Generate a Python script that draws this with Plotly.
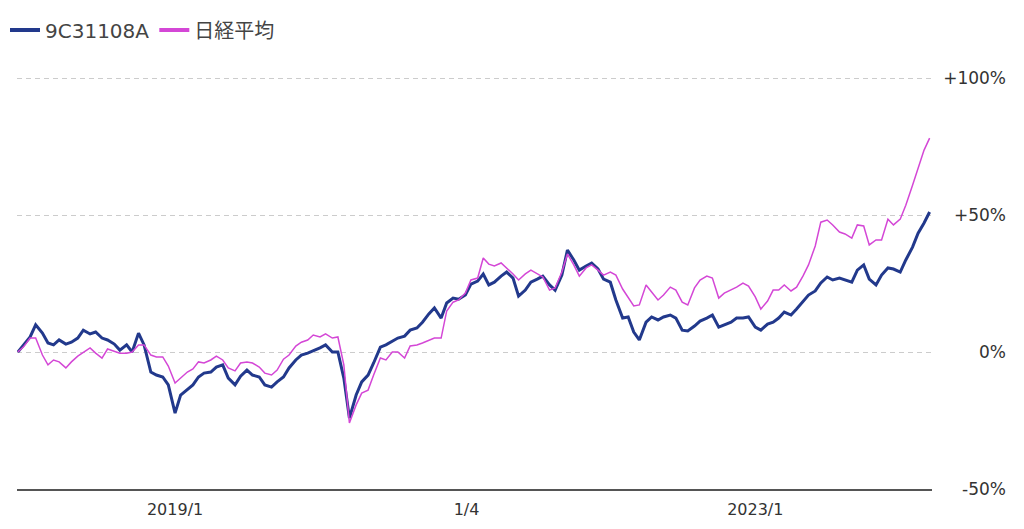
import plotly.graph_objects as go

# ---------------- data ----------------
dates = [
    "2017-12-01", "2017-12-15",
    "2018-01-01", "2018-01-15", "2018-02-01", "2018-02-15", "2018-03-01", "2018-03-15",
    "2018-04-01", "2018-04-15", "2018-05-01", "2018-05-15", "2018-06-01", "2018-06-15",
    "2018-07-01", "2018-07-15", "2018-08-01", "2018-08-15", "2018-09-01", "2018-09-15",
    "2018-10-01", "2018-10-15", "2018-11-01", "2018-11-15", "2018-12-01", "2018-12-15",
    "2019-01-01", "2019-01-15", "2019-02-01", "2019-02-15", "2019-03-01", "2019-03-15",
    "2019-04-01", "2019-04-15", "2019-05-01", "2019-05-15", "2019-06-01", "2019-06-15",
    "2019-07-01", "2019-07-15", "2019-08-01", "2019-08-15", "2019-09-01", "2019-09-15",
    "2019-10-01", "2019-10-15", "2019-11-01", "2019-11-15", "2019-12-01", "2019-12-15",
    "2020-01-01", "2020-01-15", "2020-02-01", "2020-02-15", "2020-03-01", "2020-03-15",
    "2020-04-01", "2020-04-15", "2020-05-01", "2020-05-15", "2020-06-01", "2020-06-15",
    "2020-07-01", "2020-07-15", "2020-08-01", "2020-08-15", "2020-09-01", "2020-09-15",
    "2020-10-01", "2020-10-15", "2020-11-01", "2020-11-15", "2020-12-01", "2020-12-15",
    "2021-01-01", "2021-01-15", "2021-02-01", "2021-02-15", "2021-03-01", "2021-03-15",
    "2021-04-01", "2021-04-15", "2021-05-01", "2021-05-15", "2021-06-01", "2021-06-15",
    "2021-07-01", "2021-07-15", "2021-08-01", "2021-08-15", "2021-09-01", "2021-09-15",
    "2021-10-01", "2021-10-15", "2021-11-01", "2021-11-15", "2021-12-01", "2021-12-15",
    "2022-01-01", "2022-01-15", "2022-02-01", "2022-02-15", "2022-03-01", "2022-03-15",
    "2022-04-01", "2022-04-15", "2022-05-01", "2022-05-15", "2022-06-01", "2022-06-15",
    "2022-07-01", "2022-07-15", "2022-08-01", "2022-08-15", "2022-09-01", "2022-09-15",
    "2022-10-01", "2022-10-15", "2022-11-01", "2022-11-15", "2022-12-01", "2022-12-15",
    "2023-01-01", "2023-01-15", "2023-02-01", "2023-02-15", "2023-03-01", "2023-03-15",
    "2023-04-01", "2023-04-15", "2023-05-01", "2023-05-15", "2023-06-01", "2023-06-15",
    "2023-07-01", "2023-07-15", "2023-08-01", "2023-08-15", "2023-09-01", "2023-09-15",
    "2023-10-01", "2023-10-15", "2023-11-01", "2023-11-15", "2023-12-01", "2023-12-15",
    "2024-01-01", "2024-01-15", "2024-02-01", "2024-02-15", "2024-03-01", "2024-03-15",
]

fund_pct = [
    0.0, 2.6, 5.5, 9.9, 6.9, 3.3, 2.6, 4.4, 2.9, 3.6,
    5.1, 8.0, 6.6, 7.3, 5.1, 4.4, 2.9, 0.7, 2.6, 0.0,
    6.9, 2.6, -7.3, -8.4, -9.1, -12.0, -22.3, -15.7, -13.5, -12.0,
    -9.1, -7.7, -7.3, -5.5, -4.7, -9.5, -12.0, -8.8, -6.6, -8.4,
    -9.1, -12.0, -12.8, -10.9, -9.1, -5.8, -2.9, -1.1, -0.4, 0.4,
    1.5, 2.6, 0.0, 0.0, -9.5, -24.1, -15.7, -10.9, -8.4, -4.0,
    1.8, 2.6, 4.0, 5.1, 5.8, 8.0, 8.8, 10.9, 13.9, 16.1,
    12.4, 17.9, 19.7, 19.3, 20.8, 24.8, 25.9, 28.5, 24.5, 25.5,
    27.7, 29.2, 27.0, 20.4, 22.6, 25.5, 26.6, 27.7, 24.5, 22.6,
    28.1, 37.2, 33.6, 29.9, 31.4, 32.5, 30.3, 26.6, 25.5, 19.0,
    12.4, 12.8, 7.3, 4.4, 10.9, 12.8, 11.7, 12.8, 13.5, 12.4,
    8.0, 7.7, 9.5, 11.3, 12.4, 13.5, 9.1, 9.9, 10.9, 12.4,
    12.4, 12.8, 9.1, 8.0, 10.2, 10.9, 12.4, 14.6, 13.5, 15.7,
    18.6, 20.8, 22.3, 25.2, 27.4, 26.3, 27.0, 26.3, 25.5, 29.9,
    31.8, 26.6, 24.5, 28.1, 30.7, 30.3, 29.2, 33.6, 38.3, 43.4,
    47.1, 51.1,
]

nikkei_pct = [
    0.0, 1.8, 5.1, 5.1, -1.1, -4.7, -2.9, -3.6, -5.8, -3.6,
    -1.5, 0.0, 1.5, -0.4, -2.2, 1.1, 0.4, -0.4, -0.4, 0.0,
    2.6, 2.6, -1.1, -1.8, -1.8, -5.1, -11.3, -9.5, -7.3, -6.2,
    -3.6, -4.0, -2.9, -1.5, -2.9, -5.8, -6.9, -4.0, -3.6, -4.0,
    -5.5, -7.7, -8.4, -6.6, -2.6, -1.1, 2.2, 3.6, 4.4, 6.2,
    5.5, 6.6, 5.1, 5.5, -4.7, -25.9, -19.3, -15.0, -13.9, -8.4,
    -2.2, -2.9, 0.0, 0.0, -2.2, 2.2, 2.6, 3.3, 4.4, 5.1,
    5.1, 15.0, 18.2, 19.0, 21.5, 26.3, 27.0, 34.3, 32.1, 31.4,
    32.5, 30.7, 28.5, 26.3, 28.5, 29.9, 28.5, 27.4, 22.6, 23.4,
    29.2, 35.8, 31.8, 27.7, 30.7, 31.8, 29.9, 28.1, 29.2, 28.1,
    23.0, 19.7, 16.8, 17.2, 24.5, 21.9, 19.0, 20.8, 23.7, 22.6,
    18.2, 17.2, 23.4, 26.3, 27.7, 27.0, 19.7, 21.5, 22.6, 23.7,
    25.2, 24.1, 20.1, 15.7, 18.6, 22.6, 22.6, 24.5, 22.3, 23.7,
    27.7, 31.8, 38.7, 47.4, 48.2, 46.4, 43.8, 43.1, 41.6, 46.4,
    46.0, 39.1, 40.9, 40.9, 48.5, 46.4, 48.5, 53.6, 60.9, 67.2,
    73.7, 78.1,
]

series_names = ["9C31108A", "日経平均"]
y_tick_values = [-50, 0, 50, 100]
y_tick_labels = ["-50%", "0%", "+50%", "+100%"]
x_tick_values = ["2019-01-01", "2021-01-04", "2023-01-01"]
x_tick_labels = ["2019/1", "1/4", "2023/1"]
x_range = ["2017-11-29", "2024-03-21"]
y_range = [-50, 100.4]

# ---------------- styling ----------------
BLUE = "#22398c"
PINK = "#d447d6"
FONT = "DejaVu Sans, Noto Sans CJK JP, sans-serif"

fig = go.Figure()

# legend-only entries (thick symbols like the reference)
fig.add_trace(go.Scatter(x=[None], y=[None], mode="lines", name=series_names[0],
                         line=dict(color=BLUE, width=4)))
fig.add_trace(go.Scatter(x=[None], y=[None], mode="lines", name=series_names[1],
                         line=dict(color=PINK, width=4)))

fig.add_trace(go.Scatter(x=dates, y=fund_pct, mode="lines", name=series_names[0],
                         line=dict(color=BLUE, width=3), showlegend=False))
fig.add_trace(go.Scatter(x=dates, y=nikkei_pct, mode="lines", name=series_names[1],
                         line=dict(color=PINK, width=1.5), showlegend=False))

L, R = 17, 14
plot_w = 1024 - L - R

fig.update_layout(
    width=1024, height=529,
    margin=dict(l=L, r=R, t=77, b=40, autoexpand=False),
    paper_bgcolor="white", plot_bgcolor="white",
    font=dict(family=FONT, color="#333333", size=16),
    showlegend=True,
    legend=dict(
        orientation="h", xref="container", yref="container",
        x=5 / 1024, y=1 - 30 / 529, xanchor="left", yanchor="middle",
        font=dict(size=20, color="#444444", family=FONT),
        bgcolor="rgba(0,0,0,0)", borderwidth=0,
    ),
    xaxis=dict(
        type="date",
        domain=[0, (932 - L) / plot_w],
        range=x_range, tickmode="array",
        tickvals=x_tick_values, ticktext=x_tick_labels,
        showgrid=False, zeroline=False, ticks="",
        ticklabelstandoff=5, automargin=False,
        showline=True, linecolor="#555555", linewidth=2,
        tickfont=dict(size=16, color="#333333", family=FONT),
        fixedrange=True,
    ),
    yaxis=dict(
        type="linear",
        range=y_range, tickmode="array",
        tickvals=y_tick_values, ticktext=y_tick_labels,
        side="left", anchor="free", position=(1006 - L) / plot_w,
        showgrid=True, gridcolor="#cccccc", gridwidth=1, griddash="5px,4px",
        zeroline=False, showline=False, ticks="", automargin=False,
        tickfont=dict(size=17, color="#333333", family=FONT),
        fixedrange=True,
    ),
)

fig.write_html("out.html")
